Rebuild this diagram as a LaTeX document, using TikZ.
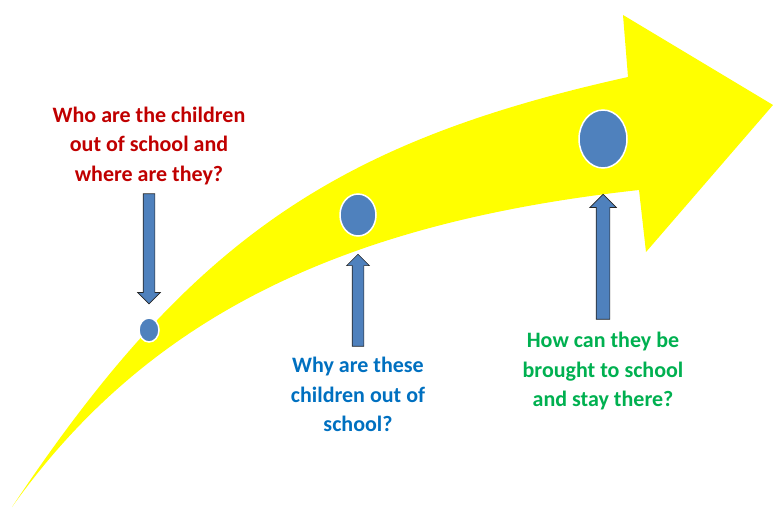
\documentclass[tikz,border=0pt]{standalone}
\usepackage{fontspec}
\setmainfont{Carlito}
\usetikzlibrary{shapes.geometric,shapes.arrows,positioning}
\definecolor{qred}{HTML}{C00000}
\definecolor{qblue}{HTML}{0070C0}
\definecolor{qgreen}{HTML}{00B050}
\definecolor{dotblue}{HTML}{4F81BD}
\definecolor{bigyellow}{HTML}{FFFF00}
\tikzset{
    dot/.style={ellipse, fill=dotblue, draw=white, line width=1.5pt, inner sep=0pt},
    qarrow/.style={single arrow, fill=dotblue, draw=black!85, line width=0.7pt,
        inner xsep=0pt, inner ysep=#1, single arrow head extend=#1, single arrow tip angle=90},
    question/.style={font=\bfseries\fontsize{22}{29.5}\selectfont, align=center}
}
\begin{document}
\begin{tikzpicture}[x=1pt, y=-1pt]
    \useasboundingbox (0,0) rectangle (774,509);
    % the big curved arrow
    \fill[bigyellow] (12,507) .. controls (190,240) and (335,142) .. (628,77)
        -- (623,15) -- (773,105) -- (646,252) -- (639,190)
        .. controls (339,223) and (146,319) .. (12,507) -- cycle;
    % dots on the arrow
    \node[dot, minimum width=20pt, minimum height=24pt] (dot1) at (149,330) {};
    \node[dot, minimum width=36pt, minimum height=42pt] (dot2) at (358,215) {};
    \node[dot, minimum width=48pt, minimum height=58pt] (dot3) at (603,139) {};
    % block arrows
    \node[qarrow=5.5pt, rotate=-90, anchor=tip, minimum height=110pt] (arr1) at ([yshift=13pt]dot1.north) {};
    \node[qarrow=5.5pt, rotate=90, anchor=tip, minimum height=92pt] (arr2) at ([yshift=-17pt]dot2.south) {};
    \node[qarrow=6.5pt, rotate=90, anchor=tip, minimum height=125pt] (arr3) at ([yshift=-25pt]dot3.south) {};
    % questions
    \node[question, text=qred, above=5pt of arr1.tail] (who) {Who are the children\\out of school and\\where are they?};
    \node[question, text=qblue, below=7pt of arr2.tail] (why) {Why are these\\children out of\\school?};
    \node[question, text=qgreen, below=9pt of arr3.tail] (how) {How can they be\\brought to school\\and stay there?};
\end{tikzpicture}
\end{document}
